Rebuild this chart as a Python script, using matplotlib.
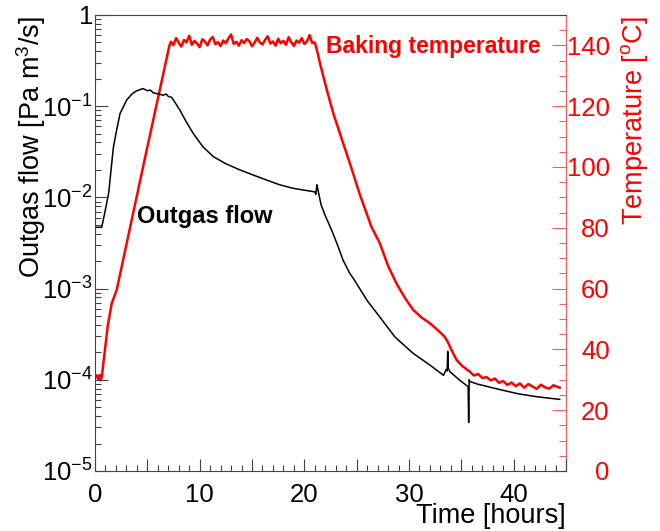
import matplotlib
matplotlib.use('Agg')
import matplotlib.pyplot as plt
from matplotlib.ticker import FixedLocator, FixedFormatter, MultipleLocator, NullFormatter

plt.rcParams['font.family'] = ['Liberation Sans', 'DejaVu Sans']
plt.rcParams['mathtext.fontset'] = 'custom'
plt.rcParams['mathtext.rm'] = 'Liberation Sans'
plt.rcParams['mathtext.it'] = 'Liberation Sans:italic'
plt.rcParams['mathtext.bf'] = 'Liberation Sans:bold'

# outgas flow [Pa m3/s] vs time [hours]
flow_time = [0.0, 0.64, 0.9, 1.31, 1.75, 2.0, 2.39, 3.03, 3.5, 3.9, 4.3, 4.6, 5.0,
             5.3, 5.57, 6.0, 6.5, 6.8, 7.0, 7.33, 7.6, 8.1, 8.7, 9.4, 10.3, 11.3,
             12.5, 13.85, 15.0, 16.4, 17.6, 18.9, 20.0, 21.0, 21.1, 21.2, 21.6,
             22.0, 22.6, 23.2, 23.7, 24.3, 24.8, 26.0, 27.2, 28.65, 30.4, 32.0,
             33.3, 33.55, 33.65, 33.7, 33.75, 33.9, 34.8, 35.65, 35.7, 35.75,
             35.8, 36.5, 38.7, 40.5, 42.3, 44.4]
flow = [4.7e-3, 4.7e-3, 6.5e-3, 1.12e-2, 3.5e-2, 5.0e-2, 8.3e-2, 0.117, 0.135,
        0.146, 0.152, 0.156, 0.148, 0.150, 0.140, 0.137, 0.132, 0.136, 0.128,
        0.125, 0.112, 0.091, 0.068, 0.050, 0.036, 0.028, 0.0234, 0.020, 0.0178,
        0.0155, 0.0138, 0.0126, 0.0120, 0.0115, 0.0108, 0.0138, 8.3e-3,
        6.3e-3, 4.4e-3, 2.95e-3, 2.05e-3, 1.5e-3, 1.23e-3, 7.4e-4, 4.9e-4,
        2.95e-4, 1.95e-4, 1.45e-4, 1.12e-4, 1.30e-4, 1.25e-4, 2.05e-4, 1.35e-4,
        1.23e-4, 1.0e-4, 8.4e-5, 3.4e-5, 1.0e-4, 9.6e-5, 9.0e-5, 7.8e-5, 7.0e-5,
        6.5e-5, 6.1e-5]

# baking temperature [degC] vs time [hours]
temp_time = [0.0, 0.15, 0.3, 0.45, 0.55, 0.65, 1.21, 1.6, 2.07, 3.5, 4.94, 6.2, 7.1,
             7.25, 7.5, 7.75, 8.0, 8.25, 8.5, 8.75, 9.0, 9.25, 9.5, 9.75, 10.0,
             10.25, 10.5, 10.75, 11.0, 11.25, 11.5, 11.75, 12.0, 12.25, 12.5,
             12.75, 13.0, 13.25, 13.5, 13.75, 14.0, 14.25, 14.5, 14.75, 15.0,
             15.25, 15.5, 15.75, 16.0, 16.25, 16.5, 16.75, 17.0, 17.25, 17.5,
             17.75, 18.0, 18.25, 18.5, 18.75, 19.0, 19.25, 19.5, 19.75, 20.0,
             20.25, 20.5, 20.75, 21.0,
             21.2, 21.5, 22.1, 22.76, 23.5, 24.35, 25.3, 26.4, 27.2, 28.0, 28.8,
             29.6, 30.4, 31.2, 32.0, 32.7, 33.4, 33.7, 34.1, 34.55, 35.1,
             35.8, 36.2, 36.6, 37.0, 37.4, 37.8, 38.2, 38.6, 39.0, 39.4, 39.8,
             40.2, 40.6, 41.0, 41.4, 41.8, 42.2, 42.6, 43.0, 43.4, 43.8, 44.4]
temp = [30.8, 31.5, 30.2, 31.6, 29.8, 31.0, 47.5, 55.2, 59.5, 82.5, 105.6, 125.5, 139.8,
        141.2, 140.1, 142.4, 140.9, 139.6, 141.8, 141.0, 143.2, 140.2, 141.5,
        140.6, 139.4, 142.0, 141.3, 140.0, 141.9, 142.8, 140.4, 141.1, 139.8,
        141.6, 140.7, 142.3, 143.6, 140.5, 141.2, 139.9, 141.7, 140.8, 142.1,
        141.4, 139.7, 140.9, 142.5, 141.0, 140.3, 141.8, 143.0, 140.6, 141.3,
        139.9, 142.2, 140.7, 141.5, 140.2, 142.7, 141.1, 139.8, 141.6, 140.9,
        142.4, 140.5, 141.3, 143.4, 140.8, 141.0,
        138.5, 134.0, 126.0, 117.7, 110.0, 101.2, 91.0, 80.4, 75.0, 67.5, 61.7,
        57.0, 53.0, 50.5, 48.6, 46.5, 44.2, 42.5, 39.5, 36.5, 34.5,
        32.7, 31.4, 31.9, 30.6, 30.9, 29.8, 30.4, 29.0, 29.6, 28.3, 29.1,
        27.9, 28.8, 27.4, 28.6, 27.8, 27.0, 28.4, 27.5, 27.1, 28.2, 27.4]

x_major = [0, 5, 10, 15, 20, 25, 30, 35, 40, 45]
x_labels = ['0', '', '10', '', '20', '', '30', '', '40', '']
y_decades = [1e-5, 1e-4, 1e-3, 1e-2, 1e-1, 1]
y_labels = ['$10^{-5}$', '$10^{-4}$', '$10^{-3}$', '$10^{-2}$', '$10^{-1}$', '1']

W, H = 660, 531
fig = plt.figure(figsize=(6.6, 5.31), dpi=100)
ax = fig.add_axes([95 / W, 60 / H, 471 / W, 456 / H])
ax2 = ax.twinx()

# black curve drawn above the red one
ax.set_zorder(ax2.get_zorder() + 1)
ax.patch.set_visible(False)

ax2.plot(temp_time, temp, color='#ff0000', lw=1.8)
ax.plot(flow_time, flow, color='black', lw=1.1)

ax.set_xlim(0, 45)
ax.set_yscale('log')
ax.set_ylim(1e-5, 1)
ax2.set_ylim(0, 150)

frame = '#444444'
for s in ['left', 'bottom', 'top']:
    ax.spines[s].set_color(frame)
    ax.spines[s].set_linewidth(0.8)
ax.spines['right'].set_visible(False)
for s in ['left', 'bottom', 'top']:
    ax2.spines[s].set_visible(False)
ax2.spines['right'].set_color('#f06060')
ax2.spines['right'].set_linewidth(0.9)

ax.xaxis.set_major_locator(FixedLocator(x_major))
ax.xaxis.set_major_formatter(FixedFormatter(x_labels))
ax.xaxis.set_minor_locator(MultipleLocator(1))
ax.yaxis.set_major_locator(FixedLocator(y_decades))
ax.yaxis.set_major_formatter(FixedFormatter(y_labels))
ax.yaxis.set_minor_locator(FixedLocator([m * d for d in y_decades[:-1] for m in range(2, 10)]))
ax.yaxis.set_minor_formatter(NullFormatter())

ax.tick_params(axis='both', which='both', direction='in', colors=frame,
               labelcolor='black', labelsize=18.5, width=0.8)
ax.tick_params(axis='both', which='major', length=9)
ax.tick_params(axis='both', which='minor', length=4.5)
ax.tick_params(axis='x', which='major', pad=8.5)
ax.tick_params(axis='y', which='major', pad=1.5)
ax.tick_params(top=False, right=False, which='both')

ax2.yaxis.set_major_locator(MultipleLocator(20))
ax2.yaxis.set_minor_locator(MultipleLocator(5))
ax2.tick_params(axis='y', which='both', direction='in', colors='#f06060',
                labelcolor='#ff0000', labelsize=18.5, width=0.8)
ax2.tick_params(axis='y', which='major', length=10, pad=31.5)
ax2.tick_params(axis='y', which='minor', length=5)
for lab in ax2.get_yticklabels():
    lab.set_horizontalalignment('right')

fig.text(566 / W, 1 - 516 / H, 'Time [hours]', fontsize=19.5, ha='right', va='center')
fig.text(31 / W, 1 - 16 / H, 'Outgas flow [Pa m$^{3}$/s]', fontsize=19.5,
         rotation=90, ha='center', va='top')
fig.text(635 / W, 1 - 16 / H, 'Temperature [$^{\\mathrm{o}}$C]', fontsize=19.5,
         rotation=90, ha='center', va='top', color='#ff0000')

fig.text(137 / W, 1 - 217 / H, 'Outgas flow', fontsize=17, fontweight='bold',
         ha='left', va='center')
fig.text(326 / W, 1 - 47 / H, 'Baking temperature', fontsize=16.5, fontweight='bold',
         ha='left', va='center', color='#ff0000')

fig.savefig('out.png', dpi=100)
